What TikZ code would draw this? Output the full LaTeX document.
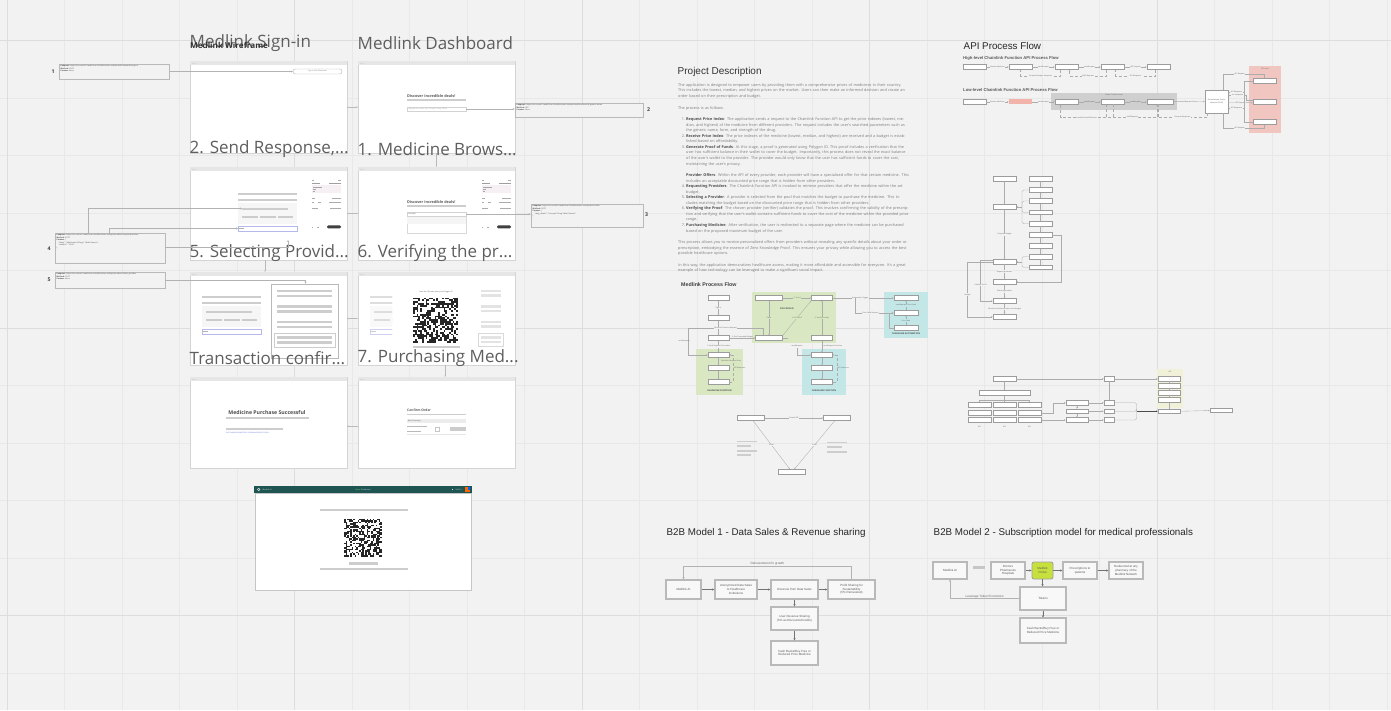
\documentclass[tikz,border=0pt]{standalone}
\usepackage{fontspec}
\setmainfont{Open Sans}
\newfontfamily\arialf{Liberation Sans}
\usetikzlibrary{arrows.meta,calc}
\definecolor{bg}{HTML}{F2F2F2}
\definecolor{gminor}{HTML}{E8E8E8}
\definecolor{gmajor}{HTML}{DDDDDD}
\definecolor{fedge}{HTML}{D4D4D4}
\definecolor{topbar}{HTML}{E6E6E6}
\definecolor{barc}{HTML}{CDCDCD}
\definecolor{ttl}{HTML}{5E5E5E}
\definecolor{bedge}{HTML}{9C9C9C}
\definecolor{txtg}{HTML}{7C7C7C}
\definecolor{pgreen}{HTML}{D9E7C2}
\definecolor{pcyan}{HTML}{C3E7E7}
\definecolor{pred}{HTML}{F1C6C0}
\definecolor{redbox}{HTML}{F2B4AA}
\definecolor{pyellow}{HTML}{F1F0D9}
\definecolor{grayreg}{HTML}{CFCFCF}
\definecolor{tealh}{HTML}{1E5552}
\definecolor{limef}{HTML}{C8E03E}
\definecolor{linkb}{HTML}{6A73D9}
\definecolor{inputb}{HTML}{B4B8EA}
\definecolor{pinkp}{HTML}{F6EFF3}

\newcommand\boxat[7]{%
  \pgfmathsetmacro\bxw{#4-(#2)}\pgfmathsetmacro\bxh{#5-(#3)}%
  \node[inner sep=0pt, #6, minimum width=\bxw pt, minimum height=\bxh pt] (#1) at ({(#2+#4)/2},{(#3+#5)/2}) {#7};}
\newcommand\wframe[5]{%
  \boxat{#1}{#2}{#3}{#4}{#5}{draw=fedge, fill=white, line width=0.7pt}{}%
  \fill[topbar] ({#2+0.35},{#3+0.35}) rectangle ({#4-0.35},{#3+4.2});
  \foreach \k in {0,1,2} \fill[gray!55] ({#2+2.2+\k*1.5},{#3+2.2}) circle (0.4);}
\newcommand\qrblock[4]{%
  \pgfmathsetseed{#4}%
  \foreach \qi in {0,...,24}{\foreach \qj in {0,...,24}{%
    \pgfmathrandominteger{\qrv}{0}{1}%
    \ifnum\qrv=1 \fill[black!85] ({#1+\qi*#3},{#2+\qj*#3}) rectangle ++(#3,#3);\fi}}}
\newcommand\searchpanel[2]{%
  \fill[barc] (#1,#2) rectangle ++(59,2.2);
  \fill[barc] (#1,#2+6) rectangle ++(59,2);
  \fill[gray!7] (#1,#2+10) rectangle ++(59,21);
  \fill[barc] (#1+4,#2+15) rectangle ++(46,2);
  \fill[gray!40] (#1+4,#2+22.5) rectangle ++(16,2.5);
  \fill[gray!40] (#1+22,#2+22.5) rectangle ++(16,2.5);
  \fill[gray!40] (#1+40,#2+22.5) rectangle ++(15,2.5);
  \draw[inputb, line width=0.5pt, fill=white] (#1,#2+33) rectangle ++(59,5);
  \fill[gray!60] (#1+1.2,#2+35.2) rectangle ++(5,0.7);}
\newcommand\sidepanel[2]{%
  \fill[gray!65] (#1,#2+0.3) rectangle ++(2,0.6); \fill[gray!65] (#1+26,#2+0.3) rectangle ++(3,0.6);
  \fill[gray!75] (#1,#2+3) rectangle ++(8,0.7); \fill[gray!75] (#1+17,#2+3) rectangle ++(12,0.7);
  \fill[pinkp] (#1,#2+5.3) rectangle ++(29,7.4);
  \fill[gray!70] (#1+1,#2+6.5) rectangle ++(9,0.6); \fill[gray!70] (#1+1,#2+8.6) rectangle ++(3,0.6);
  \fill[gray!70] (#1+1,#2+10.6) rectangle ++(1.5,0.6);
  \fill[gray!65] (#1,#2+18) rectangle ++(3,0.6); \fill[gray!65] (#1+20,#2+18) rectangle ++(9,0.6);
  \fill[gray!65] (#1,#2+21.5) rectangle ++(2,0.6); \fill[gray!65] (#1+6,#2+21.5) rectangle ++(3,0.6);
  \fill[gray!65] (#1+17,#2+21.5) rectangle ++(12,0.6);
  \fill[gray!65] (#1,#2+27.5) rectangle ++(6,0.6); \fill[gray!65] (#1+18,#2+27.5) rectangle ++(11,0.6);
  \fill[gray!65] (#1,#2+46.5) rectangle ++(1,0.8); \fill[gray!65] (#1+5,#2+46.5) rectangle ++(2,0.8);
  \fill[black!75, rounded corners=1.2pt] (#1+15,#2+45.4) rectangle ++(14,3);}

\begin{document}
\begin{tikzpicture}[x=1pt,y=-1pt,
  pbox/.style={draw=bedge, fill=white, line width=0.8pt, minimum height=4.6pt, minimum width=21pt, inner sep=0pt},
  pf/.style={draw=gray!65, line width=0.35pt, -{Stealth[length=1.5pt,width=1.5pt]}},
  pl/.style={draw=gray!65, line width=0.35pt},
  lab/.style={font=\fontsize{1.8}{2}\selectfont, text=gray!75!black, inner sep=0.4pt},
  reglab/.style={font=\bfseries\fontsize{2.2}{2.4}\selectfont, text=black!70, inner sep=0pt},
  wtitle/.style={font=\fontsize{17}{17}\selectfont, text=ttl, anchor=west, inner sep=0pt},
  annot/.style={draw=gray!55, line width=0.6pt, fill=bg},
  atext/.style={font=\fontsize{1.9}{2.5}\selectfont, text=gray!60!black, align=left, inner sep=0pt, anchor=north west},
  num/.style={font=\bfseries\fontsize{5.2}{5.2}\selectfont, text=black!75, inner sep=0pt},
  wconn/.style={draw=gray!60, line width=0.45pt, -{Stealth[length=2pt,width=2pt]}},
  fconn/.style={draw=gray!55, line width=0.4pt, -{Circle[length=1.2pt]}},
  bbox/.style={draw=gray!55, line width=1.1pt, fill=bg!50!white, align=center, font=\arialf\fontsize{3}{3.6}\selectfont, text=black!65},
  barrow/.style={draw=black!55, line width=0.5pt, -{Stealth[length=2.2pt,width=2.2pt]}},
  btitle/.style={font=\arialf\fontsize{9.8}{10}\selectfont, text=black!85, anchor=west, inner sep=0pt},
  tinyt/.style={font=\fontsize{1.8}{2.2}\selectfont, inner sep=0pt}]
\useasboundingbox (0,0) rectangle (1391,710);
\fill[bg] (0,0) rectangle (1391,710);
% grid
\foreach \k in {0,...,24} \draw[gminor, line width=0.8pt] ({7+\k*57.5},0) -- ({7+\k*57.5},710);
\foreach \k in {0,...,12} \draw[gminor, line width=0.8pt] (0,{-17+\k*57.5}) -- (1391,{-17+\k*57.5});
\foreach \k in {0,...,4} \draw[gmajor, line width=1pt] ({7+\k*287.5},0) -- ({7+\k*287.5},710);
\foreach \k in {0,1,2} \draw[gmajor, line width=1pt] (0,{40.5+\k*287.5}) -- (1391,{40.5+\k*287.5});

% ================= WIREFRAMES =================
\wframe{f11}{190}{61}{347}{153}
\wframe{f12}{358}{61}{515}{153}
\wframe{f21}{190}{167}{347}{260}
\wframe{f22}{358}{167}{515}{260}
\wframe{f31}{190}{272}{347}{365}
\wframe{f32}{358}{272}{515}{365}
\wframe{f41}{190}{377}{347}{468}
\wframe{f42}{358}{377}{515}{468}

% frame 1-1 sign in
\node[draw=gray!60, line width=0.4pt, rounded corners=2.4pt, minimum width=49pt, minimum height=5pt, inner sep=0pt, tinyt, text=gray] (signbtn) at (317.5,71.5) {Sign in with Metamask};
% frame 1-2 dashboard
\node[font=\bfseries\fontsize{3.8}{4}\selectfont, text=black!65, anchor=west, inner sep=0pt] (dd1) at (407,96) {Discover incredible deals!};
\fill[barc] (407,99.4) rectangle (466,101);
\node[draw=gray!35, fill=white, line width=0.4pt, minimum width=59pt, minimum height=4.4pt, inner sep=0pt] (search1) at (436.5,109) {};
\node[tinyt, text=gray!70, anchor=west] at (408,109) {Type generic name, e.g. Lisinopril 10mg Tablet};
% frame 2-1
\searchpanel{238}{193}
\sidepanel{312}{180}
% frame 2-2
\node[font=\bfseries\fontsize{3.8}{4}\selectfont, text=black!65, anchor=west, inner sep=0pt] at (407,202) {Discover incredible deals!};
\fill[barc] (407,205.4) rectangle (466,207);
\draw[gray!30, line width=0.4pt, fill=white] (407,217) rectangle (466,233);
\fill[gray!8] (407.3,217.3) rectangle (465.7,224);
\node[draw=gray!35, fill=white, line width=0.4pt, minimum width=59pt, minimum height=4.4pt, inner sep=0pt] (search2) at (436.5,214.2) {};
\node[tinyt, text=gray!70!black, anchor=west] at (408,214.2) {Lisinopril};
\sidepanel{482}{180}
% frame 3-1 selecting provider
\searchpanel{202}{296}
\boxat{popup}{271}{284}{338}{358}{draw=gray!55, fill=white, line width=0.6pt}{}
\foreach \yy in {289.5,305,320.5} {\fill[barc] (277,\yy) rectangle (332,\yy+2.8); \fill[barc] (277,\yy+5) rectangle (332,\yy+7.8);}
\draw[gray!40, line width=0.4pt] (274,333) rectangle (335,347);
\fill[barc] (277,336) rectangle (332,338.8); \fill[barc] (277,341) rectangle (332,343.8);
% frame 3-2 verifying
\begin{scope}
\clip (369,280) rectangle (392,340);
\searchpanel{370}{296}
\end{scope}
\fill[white,opacity=0.35] (369,290) rectangle (392,340);
\node[tinyt, text=gray!60!black] at (436,292) {Scan this QR code from your Polygon ID};
\qrblock{413}{297.5}{1.8}{7}
\fill[barc] (413,346) rectangle (460,348);
\foreach \yy in {289.5,305,320.5} {\fill[gray!22] (481,\yy) rectangle (501,\yy+2.6); \fill[gray!22] (481,\yy+4.6) rectangle (501,\yy+7.2);}
\draw[gray!30, line width=0.4pt] (478,333) rectangle (503,346);
\fill[gray!22] (481,336) rectangle (501,338.6); \fill[gray!22] (481,340.6) rectangle (501,343.2);
% frame 4-1 purchase successful
\node[font=\bfseries\fontsize{5.2}{5.5}\selectfont, text=black!70, inner sep=0pt] at (267,412.8) {Medicine Purchase Successful};
\fill[barc] (226,417) rectangle (308.5,419);
\fill[barc] (226,428.3) rectangle (283,430);
\node[tinyt, text=linkb, anchor=west] at (226,433) {0x3f1a4e6b9c2d8a7f5e0c1b3d9a6e4f2c8b7d1a05e};
% frame 4-2 confirm order
\node[font=\bfseries\fontsize{3.3}{3.6}\selectfont, text=black!65, anchor=west, inner sep=0pt] at (407,410.5) {Confirm Order};
\fill[barc] (407,413.5) rectangle (466,415);
\fill[gray!15] (407,419.2) rectangle (466,423.4);
\node[tinyt, text=black!70, anchor=west] at (408,421.3) {Best Pharmacy};
\fill[gray!55] (407,426.3) rectangle (427,427); \fill[gray!55] (407,430.6) rectangle (421,431.3);
\draw[gray!45, line width=0.3pt] (435,427.2) rectangle (439,431);
\fill[gray!40] (450,426.8) rectangle (466,431.2);
\draw[gray!20, line width=0.4pt] (407,434.2) -- (466,434.2);

% wireframe titles
\node[wtitle] (t11) at (189.5,43) {Medlink Sign-in};
\node[wtitle] (t12) at (357.5,43) {Medlink Dashboard};
\node[wtitle] (t21) at (189.5,149) {2. Send Response,...};
\node[wtitle] (t22) at (357.5,149) {1. Medicine Brows...};
\node[wtitle] (t31) at (189.5,253) {5. Selecting Provid...};
\node[wtitle] (t32) at (357.5,253) {6. Verifying the pr...};
\node[wtitle] (t41) at (189.5,358) {Transaction confir...};
\node[wtitle] (t42) at (357.5,358) {7. Purchasing Med...};
\node[font=\bfseries\fontsize{8.1}{8.1}\selectfont, text=black!80, anchor=west, inner sep=0pt] (wft) at (190,45.5) {Medlink Wireframe};

% frame-to-frame connectors
\draw[fconn] (f11.east) -- (f12.west);
\draw[fconn] (f12.south) -- (f22.north);
\draw[fconn] (f22.west) -- (f21.east);
\draw[fconn] ([xshift=-3.5pt]f21.south) -- ([xshift=-3.5pt]f31.north);
\draw[fconn] (f31.east) -- (f32.west);
\draw[fconn] ([xshift=8.5pt]f32.south) -- ([xshift=8.5pt]f42.north);
\draw[fconn] ([yshift=-3.5pt]f42.west) -- ([yshift=-3.5pt]f41.east);

% annotations
\boxat{A1}{59}{64}{169}{79}{annot}{}
\node[atext] at (60.5,65.2) {\textbf{Endpoint:} https://us-central1-medlink-ai.cloudfunctions.net/api/auth/metamask-sign-in\\\textbf{Method:} POST\\\textbf{Params:} None};
\node[num] at (53,71.5) {1};
\draw[wconn] (A1.east) -- (signbtn.west);

\boxat{A2}{515}{103}{643}{117}{annot}{}
\node[atext] at (516.5,104.2) {\textbf{Endpoint:} https://us-central1-medlink-ai.cloudfunctions.net/api/medicines/search-generic-name\\\textbf{Method:} GET\\\textbf{Params:} None};
\node[num] at (648.5,110) {2};
\draw[wconn] (search1.east) -- (A2.west |- search1.east);

\boxat{A3}{531}{204}{643}{227}{annot}{}
\node[atext] at (532.5,205.2) {\textbf{Endpoint:} https://us-central1-medlink-ai.cloudfunctions.net/api/price-index\\\textbf{Method:} POST\\\textbf{Params:} \{\\\quad "drug\_details": "Lisinopril 10mg Tablet Generic"\\\}};
\node[num] at (646.5,215) {3};
\draw[wconn] (search2.east) -- (A3.west |- search2.east);

\boxat{A4}{55}{233}{165}{263}{annot}{}
\node[atext] at (56.5,234.2) {\textbf{Endpoint:} https://us-central1-medlink-ai.cloudfunctions.net/api/providers/request-providers\\\textbf{Method:} POST\\\textbf{Params:} \{\\\quad "drugs": "Metformin 500mg 1 Tablet Generic",\\\quad "amount": "10.00"\\\}};
\node[num] at (49,249) {4};
\coordinate (c4a) at (242,208.5);
\coordinate (c4b) at (238,228.5);
\coordinate (c4c) at (288,240);
\draw[wconn] ([xshift=-21.5pt]A4.north) |- (c4a);
\draw[wconn] ([xshift=-0.5pt]A4.north) |- (c4b);
\draw[wconn] ([yshift=1pt]A4.east) -| (c4c);

\boxat{A5}{55}{272}{165}{288}{annot}{}
\node[atext] at (56.5,273.2) {\textbf{Endpoint:} https://us-central1-medlink-ai.cloudfunctions.net/api/providers/select\_provider\\\textbf{Method:} POST\\\textbf{Params:} None};
\node[num] at (49,280) {5};
\draw[wconn] (A5.east) -| ([xshift=1pt]popup.north);

% bottom frame
\fill[tealh] (254,486) rectangle (472,493);
\boxat{fbot}{255}{493}{471.5}{590}{draw=gray!45, line width=1pt, fill=white}{}
\fill[white!80!gray] (258.7,489.5) circle (1.6);
\fill[tealh] (258.7,489.5) circle (0.7);
\node[tinyt, text=white!85!tealh, anchor=west] at (262.5,489.5) {Medlink AI};
\node[tinyt, text=green!60!white, anchor=west] at (355,489.5) {Home};
\node[tinyt, text=white!85!tealh, anchor=west] at (361,489.5) {Dashboard};
\fill[white] (452.5,489.5) circle (0.5);
\node[tinyt, text=white!85!tealh, anchor=west] at (455.5,489.5) {0x3f1a...};
\fill[orange!80!red] (465,487) rectangle (470,492);
\fill[blue!60!cyan] (467.5,487) rectangle (470,489.5);
\fill[barc] (320,508.5) rectangle (408,511);
\qrblock{344}{518.5}{1.52}{11}
\fill[barc] (349,562) rectangle (378,564.8);
\fill[barc] (320,567.5) rectangle (408,569.6);

% ================= PROJECT DESCRIPTION =================
\node[font=\arialf\fontsize{10}{10}\selectfont, text=black!80, anchor=west, inner sep=0pt] (pdt) at (677.5,72) {Project Description};
\newcommand\hd[1]{{\bfseries\color{black!70}#1}}
\newcommand\pit[1]{\par\noindent\hangindent=8pt\hangafter=0 \llap{#1.\ }}
\node[anchor=north west, inner sep=0pt, text width=231pt, align=left, font=\fontsize{3.8}{5.55}\selectfont, text=txtg] (pdbody) at (678,83) {%
The application is designed to empower users by providing them with a comprehensive prices of medicines in their country. This includes the lowest, median, and highest prices on the market. Users can then make an informed decision and create an order based on their prescription and budget.\par\vspace{6.5pt}
The process is as follows:\par\vspace{5.8pt}
\pit{1}\hd{Request Price Index}: The application sends a request to the Chainlink Function API to get the price indexes (lowest, median, and highest) of the medicine from different providers. The request includes the user's searched parameters such as the generic name, form, and strength of the drug.
\pit{2}\hd{Receive Price Index}: The price indexes of the medicine (lowest, median, and highest) are received and a budget is established based on affordability.
\pit{3}\hd{Generate Proof of Funds}: At this stage, a proof is generated using Polygon ID. This proof includes a verification that the user has sufficient balance in their wallet to cover the budget. Importantly, this process does not reveal the exact balance of the user's wallet to the provider. The provider would only know that the user has sufficient funds to cover the cost, maintaining the user's privacy.\par\vspace{6pt}
\noindent\hangindent=8pt\hangafter=0 \hd{Provider Offers}: Within the API of every provider, each provider will have a specialized offer for that certain medicine. This includes an acceptable discounted price range that is hidden from other providers.
\pit{4}\hd{Requesting Providers}: The Chainlink Function API is invoked to retrieve providers that offer the medicine within the set budget.
\pit{5}\hd{Selecting a Provider}: A provider is selected from the pool that matches the budget to purchase the medicine. This includes matching the budget based on the discounted price range that is hidden from other providers.
\pit{6}\hd{Verifying the Proof}: The chosen provider (verifier) validates the proof. This involves confirming the validity of the prescription and verifying that the user's wallet contains sufficient funds to cover the cost of the medicine within the provided price range.
\pit{7}\hd{Purchasing Medicine}: After verification, the user is redirected to a separate page where the medicine can be purchased based on the proposed maximum budget of the user.\par\vspace{6pt}
\noindent This process allows you to receive personalized offers from providers without revealing any specific details about your order or prescription, embodying the essence of Zero Knowledge Proof. This ensures your privacy while allowing you to access the best possible healthcare options.\par\vspace{6pt}
In this way, the application democratizes healthcare access, making it more affordable and accessible for everyone. It's a great example of how technology can be leveraged to make a significant social impact.};

% ================= MEDLINK PROCESS FLOW =================
\node[font=\arialf\bfseries\fontsize{5.3}{5.3}\selectfont, text=black!75, anchor=west, inner sep=0pt] (mpf) at (681,285) {Medlink Process Flow};
\fill[pgreen] (752,292) rectangle (836,343);
\fill[pgreen] (696,349) rectangle (743,395);
\fill[pcyan] (884,292) rectangle (928,338);
\fill[pcyan] (802,349) rectangle (846,395);
\node[reglab] at (787,309) {POLYGON ID};
\node[reglab] at (719.5,391) {CHAINLINK FUNCTION};
\node[reglab] at (824,391) {CHAINLINK FUNCTION};
\node[reglab] at (906,334) {CHAINLINK AUTOMATION};
\node[pbox] (P1) at (718.5,298) {};
\node[pbox] (P2) at (718.5,318) {};
\node[pbox] (P3) at (718.5,338) {};
\node[pbox] (P4) at (718.5,355) {};
\node[pbox] (P5) at (718.5,368) {};
\node[pbox] (P6) at (718.5,382) {};
\node[pbox, minimum width=27pt] (Q1) at (769,298) {};
\node[pbox] (Q2) at (822,298) {};
\node[pbox, minimum width=27pt] (Q3) at (769,338) {};
\node[pbox] (Q4) at (822,338) {};
\node[pbox] (R1) at (822,355) {};
\node[pbox] (R2) at (822,368) {};
\node[pbox] (R3) at (822,382) {};
\node[pbox, minimum width=24pt] (S1) at (906,298) {};
\node[pbox, minimum width=24pt] (S2) at (906,313) {};
\node[pbox, minimum width=24pt] (S3) at (906,328) {};
\node[pbox, minimum width=27pt] (V1) at (751,418) {};
\node[pbox, minimum width=27pt] (V2) at (837,418) {};
\node[pbox, minimum width=27pt] (V3) at (792,472) {};
\draw[pf] (P1) -- node[lab, fill=bg]{Sign in} (P2);
\draw[pf] (P2) -- (P3);
\draw[pf] (P3) -- node[lab, fill=bg]{1. Send Request Price Index} (P4);
\draw[pf] (P4) -- node[lab, right=2pt]{Chainlink Request Event} (P5);
\draw[pf] (P5) -- (P6);
\draw[pf, densely dashed] (P6.east) -- ++(4,0) |- node[lab, pos=0.25, right]{API Response} (P4.east);
\draw[pf] ([xshift=-6pt]Q3.north) |- node[lab, pos=0.75, fill=bg]{Chainlink Function Request} (688,328) |- (P4.west);
\node[lab] at (684,341) {sendRequest};
\draw[pf] (P3) -- node[lab, above]{2. Get Computed Budget} (Q3);
\draw[pf] (Q1) -- node[lab, fill=pgreen]{3. Proof} (Q2);
\draw[pf] (Q1) -- node[lab, fill=pgreen]{Claim} (Q3);
\draw[pf] (Q3.north east) -- node[lab, fill=pgreen]{4. ZK Proof} (Q2.south west);
\draw[pf] (Q4) -- node[lab, fill=pgreen]{5. Verify Provider} (Q2);
\draw[pl] (Q3.east) -- ++(5,0);
\draw[pf] (Q4) -- node[lab, fill=bg, right=1pt]{sendRequest Function} (R1);
\coordinate (sr) at (797,348);
\node[lab] at (797,346) {sendRequest};
\draw[pf] (sr) |- (R1.west);
\draw[pf] (R1) -- (R2);
\draw[pf] (R2) -- (R3);
\draw[pf, densely dashed] (R3.east) -- ++(4,0) |- node[lab, pos=0.25, right]{API Response} (R1.east);
\draw[pf] (Q2.east) -- node[lab, fill=bg, pos=0.45]{Automation Trigger} (S1.west);
\coordinate (autob) at (855,298);
\draw[pf] (autob) |- node[lab, pos=0.7, fill=bg]{Price Feed Request} (S2.west);
\draw[pf] (S2) -- node[lab, fill=pcyan]{sendRequest Price Feed} (S1);
\draw[pf] (S3) -- node[lab, fill=pcyan]{Price Feed} (S2);
\draw[pf] (S3.west) -- ++(-4,0) |- (S2.west);
\draw[pf] (V1) -- node[lab, fill=bg]{Private ZKP} (V2);
\draw[pf] (V1) -- node[lab, fill=bg]{Proof} (V3);
\draw[pf] (V2) -- node[lab, fill=bg]{Proof} (V3);
\fill[barc] (737,440.5) rectangle (757,442.3);
\fill[barc] (737,445) rectangle (751,446.8);
\fill[barc] (737,449.8) rectangle (757,451.6);
\fill[barc] (737,454.3) rectangle (751,456.1);
\fill[barc] (827,441.5) rectangle (847,443.3);
\fill[barc] (827,446.2) rectangle (842,448);
\fill[barc] (827,451.2) rectangle (847,453);

% ================= API PROCESS FLOW =================
\node[font=\arialf\fontsize{9.8}{10}\selectfont, text=black!85, anchor=west, inner sep=0pt] (apit) at (963.5,46) {API Process Flow};
\node[font=\arialf\bfseries\fontsize{4.2}{4.5}\selectfont, text=black!65, anchor=west, inner sep=0pt] at (963,58) {High-level Chainlink Function API Process Flow};
\node[font=\arialf\bfseries\fontsize{4.2}{4.5}\selectfont, text=black!65, anchor=west, inner sep=0pt] at (963,90.3) {Low-level Chainlink Function API Process Flow};
\foreach \nm/\xx in {H1/974.5, H2/1020.5, H3/1066.5, H4/1112.5, H5/1158.5} \node[pbox, minimum width=23pt] (\nm) at (\xx,67) {};
\draw[pf] (H1) -- node[lab, fill=bg]{Browse Medicine} (H2);
\draw[pf] (H2) -- node[lab, fill=bg]{sendRequest} (H3);
\draw[pf] (H3) -- node[lab, fill=bg]{sendRequest} (H4);
\draw[pf] (H4) -- node[lab, fill=bg]{API Request} (H5);
\draw[pf, densely dashed] ([xshift=-6pt]H3.south) -- ++(0,6) -| node[lab, pos=0.25, fill=bg]{Compute Budget Response} (H2.south);
\draw[pf, densely dashed] ([xshift=-6pt]H4.south) -- ++(0,6) -| node[lab, pos=0.25, fill=bg]{Fulfill Request} ([xshift=3pt]H3.south);
\draw[pf, densely dashed] ([xshift=-3pt]H5.south) -- ++(0,6) -| node[lab, pos=0.25, fill=bg]{API Response} ([xshift=3pt]H4.south);

\fill[grayreg] (1051,93) rectangle (1177,110);
\node[lab] at (1114,95) {Smart Contract Level};
\fill[pred] (1249,66) rectangle (1281,133);
\node[lab] at (1265,68.5) {API Level};
\node[pbox, minimum width=23pt] (K1) at (974.5,101.7) {};
\node[pbox, minimum width=23pt, draw=none, fill=redbox] (K2) at (1020.5,101.7) {};
\node[pbox, minimum width=23pt] (K3) at (1066.5,101.7) {};
\node[pbox, minimum width=23pt] (K4) at (1112.5,101.7) {};
\node[pbox, minimum width=26pt] (K5) at (1160,101.7) {};
\node[pbox, minimum width=23pt, minimum height=23pt, align=center, font=\fontsize{1.8}{2.3}\selectfont, text=gray!70!black] (BIG) at (1216.5,101.5) {Decentralized Oracle\\Network (DON)};
\node[pbox, minimum width=23pt] (X1) at (1264.5,81) {};
\node[pbox, minimum width=23pt] (X2) at (1264.5,101.7) {};
\node[pbox, minimum width=23pt] (X3) at (1264.5,122) {};
\draw[pf] (K1) -- node[lab, fill=bg]{Browse Medicine} (K2);
\draw[pf] (K2) -- node[lab, fill=bg]{sendRequest} (K3);
\draw[pf] (K3) -- node[lab, fill=grayreg]{sendRequest} (K4);
\draw[pf] (K4) -- node[lab, fill=grayreg]{sendRequest} (K5);
\draw[pf] (K5) -- node[lab, fill=bg]{sendRequest Event} (BIG);
\draw[pf, densely dashed] ([xshift=0.5pt]K4.south) -- ++(0,13) -| node[lab, pos=0.25, fill=bg]{handleOracleFulfillment} ([xshift=-6pt]K3.south);
\draw[pf, densely dashed] ([xshift=-2pt]K5.south) -- ++(0,13) -| node[lab, pos=0.25, fill=bg]{fulfillRequest} ([xshift=-6pt]K4.south);
\draw[pf, densely dashed] ([xshift=-9pt]BIG.south) -- ++(0,4) -| node[lab, pos=0.25, fill=bg]{Transmit Response} ([xshift=-3pt]K5.south);
\draw[pf] ([xshift=6.5pt]BIG.north) |- node[lab, pos=0.7, fill=bg]{API Request} (1264.5,74) -- (X1.north);
\draw[pf] (X1.west) -- ++(-8,0) |- node[lab, pos=0.75, fill=bg]{API Response} ([yshift=-7pt]BIG.east);
\draw[pf] ([yshift=-1pt]BIG.east) -- node[lab, fill=bg]{API Request} ([yshift=-1pt]X2.west);
\draw[pf] ([yshift=1.5pt]X2.west) -- ++(-6,0) |- node[lab, pos=0.75, fill=bg]{API Response} ([yshift=6pt]BIG.east);
\draw[pf] ([xshift=6.5pt]BIG.south) |- node[lab, pos=0.7, fill=bg]{API Request} (1264.5,128.3) -- (X3.south);
\draw[pf] (X3.west) -- ++(-8,0) |- node[lab, pos=0.75, fill=bg]{API Response} ([yshift=9pt]BIG.east);

% middle API flow
\foreach \nm/\yy in {L1/178.7, L2/206.7, L3/261.7, L4/281.7, L5/301, L6/316.7} \node[pbox, minimum width=23pt] (\nm) at (1004.5,\yy) {};
\foreach \nm/\yy in {Ra/178.7, Rb/190, Rc/201, Rd/212.3, Re/223.7, Rf/235, Rg/246, Rh/256.7, Ri/267.3} \node[pbox, minimum width=23pt] (\nm) at (1040.5,\yy) {};
\foreach \a/\b in {Ra/Rb, Rb/Rc, Rc/Rd, Rd/Re, Re/Rf, Rf/Rg, Rg/Rh, Rh/Ri} \draw[pl] (\a) -- (\b);
\draw[pf] (L1) -- (L2);
\draw[pf] (L2) -- node[lab, fill=bg]{Compute Budget} (L3);
\draw[pf] (L3) -- node[lab, fill=bg]{Request providers} (L4);
\draw[pf] (L4) -- node[lab, fill=bg]{Selecting provider} (L5);
\draw[pf] (L5) -- node[lab, fill=bg]{Check for valid prescription and budget} (L6);
\coordinate (br1) at (1022,206.7);
\foreach \t in {Rb,Rc,Rd,Re} \draw[pl, rounded corners=1.5pt] (br1) |- (\t.west);
\draw[pf] (br1) -- (L2.east);
\coordinate (br2) at (1022,261.7);
\foreach \t in {Rh,Ri} \draw[pl, rounded corners=1.5pt] (br2) |- (\t.west);
\draw[pf] (br2) -- (L3.east);
\draw[pf] (Rf.east) -- ++(9,0) |- (L4.east);
\draw[pf] (L3.west) -- ++(-25,0) |- node[lab, pos=0.3, fill=bg]{Budget} (L6.west);
\draw[pf] ([yshift=1.5pt]L3.west) -- ++(-12,0) |- node[lab, pos=0.3, fill=bg]{Validate Proof} (L5.west);

% lower API flow
\node[pbox, minimum width=23pt] (T1) at (1004.5,378.7) {};
\node[pbox, minimum width=51pt] (W1) at (1004.5,393) {};
\foreach \c/\xx in {1/979.5, 2/1004.5, 3/1029.5} {
  \foreach \r/\yy in {1/405.3, 2/412.7, 3/420} \node[pbox, minimum width=23pt, minimum height=5pt] (G\c\r) at (\xx,\yy) {};
  \node[lab] at (\xx,426.5) {API};}
\foreach \nm/\yy in {Ma/402.7, Mb/411.3, Mc/420} \node[pbox, minimum width=22pt] (\nm) at (1077,\yy) {};
\foreach \nm/\yy in {Sa/378.7, Sb/402.7, Sc/411.3, Sd/420} \node[pbox, minimum width=10pt] (\nm) at (1109,\yy) {};
\fill[pyellow] (1157,369.3) rectangle (1183,407.7);
\node[lab] at (1170,372.3) {API};
\foreach \nm/\yy in {Ya/378.7, Yb/385.7, Yc/392.7, Yd/400} \node[pbox, minimum width=22pt] (\nm) at (1169,\yy) {};
\node[pbox, minimum width=22pt] (Ye) at (1169,411.3) {};
\node[pbox, minimum width=22pt] (Z1) at (1221,410.5) {};
\draw[pl] (T1) -- (W1);
\coordinate (wb) at (1004.5,400);
\draw[pl] (W1.south) -- (wb);
\foreach \c in {1,2,3} \draw[pl] (wb) -| (G\c1.north);
\draw[pf] (T1.east) -- (Sa.west);
\draw[pf] (Sa.east) -- (Ya.west);
\draw[pl] (Sa) -- (Sb);
\draw[pf] (G32.east) -- ++(12,0) |- (Ma.west);
\draw[pf] (G33.east) -- (Mc.west);
\draw[pf] (Ma) -- (Mb);
\draw[pf] (Mb) -- (Mc);
\draw[pf] (Ma.east) -- (Sb.west);
\draw[pf] (Mb.east) -- (Sc.west);
\draw[pf] (Mc.east) -- (Sd.west);
\coordinate (yb) at (1136.5,411.3);
\foreach \t in {Sb,Sc,Sd} \draw[pl, rounded corners=2pt] (\t.east) -| (yb);
\draw[draw=black!70, line width=0.5pt, -{Stealth[length=1.6pt,width=1.6pt]}] (yb) -- (Ye.west);
\foreach \a/\b in {Ya/Yb, Yb/Yc, Yc/Yd, Yd/Ye} \draw[pl] (\a) -- (\b);
\draw[pf] (Ye.east) -- (Z1.west);

% ================= B2B MODEL 1 =================
\node[btitle] (b1t) at (666.5,533) {B2B Model 1 - Data Sales \& Revenue sharing};
\boxat{M1}{666}{580}{701}{599}{bbox}{Medlink AI}
\boxat{M2}{715}{580}{757}{599}{bbox}{Anonymized Data Sales\\to Healthcare\\Institutions}
\boxat{M3}{771}{580}{818}{599}{bbox}{Revenue from Data Sales}
\boxat{M4}{828}{580}{875}{599}{bbox}{Profit Sharing for\\Sustainability\\(5\% Reinvested)}
\boxat{M5}{771}{607}{818}{630}{bbox}{User Revenue Sharing\\(5\% as Discounts/Credits)}
\boxat{M6}{771}{641}{818}{665}{bbox}{Cash Backs/Buy Free or\\Reduced Price Medicine}
\draw[barrow] (M1) -- (M2);
\draw[barrow] (M2) -- (M3);
\draw[barrow] (M3) -- (M4);
\draw[barrow] (M3) -- (M5);
\draw[barrow] (M5) -- (M6);
\draw[barrow, draw=gray!60] (M4.north) -- ++(0,-13) -| node[pos=0.25, above=0.6pt, inner sep=0pt, font=\arialf\fontsize{3.1}{3.5}\selectfont, text=black!60]{Reinvestment for growth} (M1.north);

% ================= B2B MODEL 2 =================
\node[btitle] (b2t) at (933.5,533) {B2B Model 2 - Subscription model for medical professionals};
\boxat{N1}{933}{562}{967}{579}{bbox}{Medlink AI}
\fill[gray!45] (973,566) rectangle (985,568.8);
\boxat{N2}{991}{562}{1025}{579}{bbox}{Doctors\\Pharmacies\\Hospitals}
\boxat{N3}{1032}{562}{1053}{579}{bbox, fill=limef, draw=gray!75, rounded corners=2pt, line width=0.8pt}{Medlink\\Portal}
\boxat{N4}{1063}{562}{1097}{579}{bbox}{Prescriptions to\\patients}
\boxat{N5}{1109}{562}{1143}{579}{bbox}{Redeemed at any\\pharmacy of the\\Medlink Network}
\boxat{N6}{1020}{587}{1066}{610}{bbox}{Tokens}
\boxat{N7}{1020}{618}{1066}{643}{bbox}{Cash Backs/Buy Free or\\Reduced Price Medicine}
\draw[barrow] (N2) -- (N3);
\draw[barrow] (N3) -- (N4);
\draw[barrow] (N4) -- (N5);
\draw[barrow] (N3) -- (N3 |- N6.north);
\draw[barrow] (N6.south -| N7.north) -- (N7);
\draw[barrow, draw=gray!60] (N6.west) -| node[pos=0.25, above=0.6pt, inner sep=0pt, font=\arialf\fontsize{3.1}{3.5}\selectfont, text=black!60]{Leverage Token Economics} (N1.south);
\end{tikzpicture}
\end{document}
